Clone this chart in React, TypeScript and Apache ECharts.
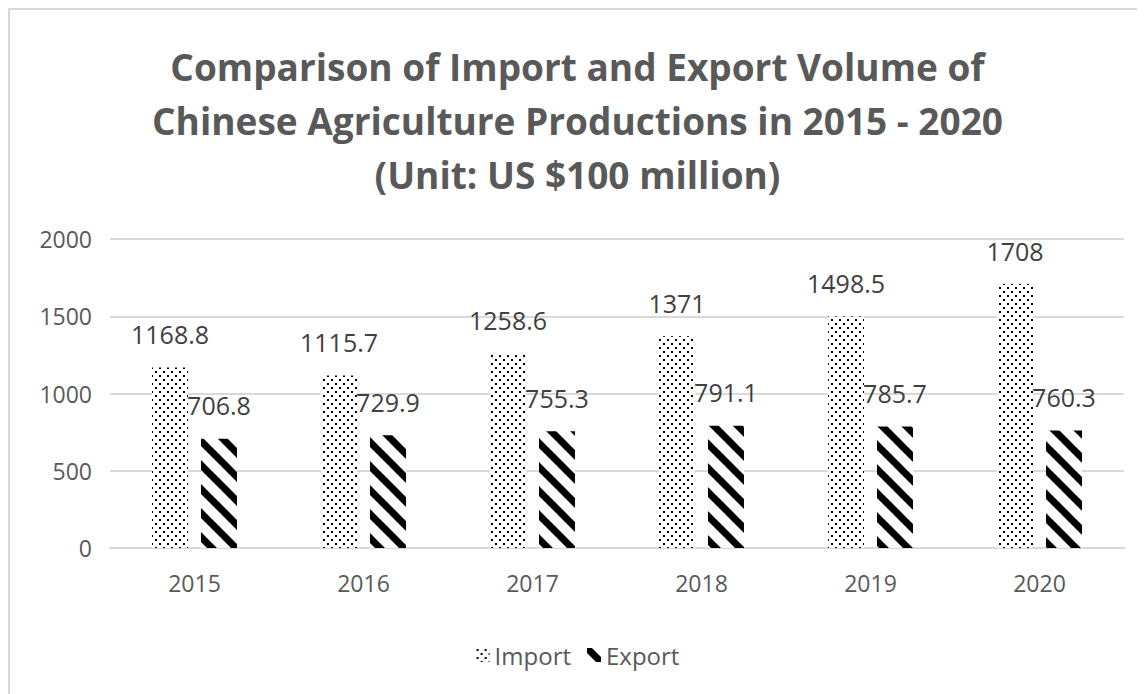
import React, { useEffect, useRef } from "react";
import * as echarts from "echarts";

const years = ["2015", "2016", "2017", "2018", "2019", "2020"];
const importValues = [1168.8, 1115.7, 1258.6, 1371, 1498.5, 1708];
const exportValues = [706.8, 729.9, 755.3, 791.1, 785.7, 760.3];
const seriesNames = ["Import", "Export"];
const titleText =
  "Comparison of Import and Export Volume of\nChinese Agriculture Productions in 2015 - 2020\n(Unit: US $100 million)";

const dotSvg =
  "<svg xmlns='http://www.w3.org/2000/svg' width='8' height='8'><rect width='8' height='8' fill='white'/><rect x='1' y='1' width='2' height='2' fill='black'/><rect x='5' y='5' width='2' height='2' fill='black'/></svg>";
const stripeSvg =
  "<svg xmlns='http://www.w3.org/2000/svg' width='24' height='24'><rect width='24' height='24' fill='white'/><g stroke='black' stroke-width='7'><line x1='-6' y1='-6' x2='30' y2='30'/><line x1='-6' y1='18' x2='6' y2='30'/><line x1='18' y1='-6' x2='30' y2='6'/></g></svg>";

const toUrl = (s: string) => "data:image/svg+xml;charset=utf-8," + encodeURIComponent(s);

export default function App() {
  const ref = useRef<HTMLDivElement>(null);
  useEffect(() => {
    if (!ref.current) return;
    const chart = echarts.init(ref.current, null, { renderer: "svg" });
    const dotPattern: any = { image: toUrl(dotSvg), repeat: "repeat", imageWidth: 8, imageHeight: 8 };
    const stripePattern: any = { image: toUrl(stripeSvg), repeat: "repeat", imageWidth: 24, imageHeight: 24 };
    const font = "'Open Sans', sans-serif";
    chart.setOption({
      animation: false,
      textStyle: { fontFamily: font },
      title: {
        text: titleText,
        left: "center",
        top: 24,
        textStyle: {
          fontFamily: font,
          fontSize: 37,
          fontWeight: "bold",
          color: "#595959",
          lineHeight: 54,
        },
      },
      legend: {
        data: seriesNames,
        top: 628,
        left: "center",
        itemWidth: 14,
        itemHeight: 14,
        itemGap: 16,
        icon: "rect",
        textStyle: { fontFamily: font, fontSize: 24, color: "#595959" },
      },
      grid: { left: 100, right: 21, top: 229, bottom: 146 },
      xAxis: {
        type: "category",
        data: years,
        axisLine: { lineStyle: { color: "#d9d9d9", width: 2 } },
        axisTick: { show: false },
        axisLabel: { fontFamily: font, fontSize: 23, color: "#595959", margin: 23 },
      },
      yAxis: {
        type: "value",
        min: 0,
        max: 2000,
        interval: 500,
        axisLine: { show: false },
        axisTick: { show: false },
        splitLine: { lineStyle: { color: "#d9d9d9", width: 2 } },
        axisLabel: {
          fontFamily: font,
          fontSize: 23,
          color: "#595959",
          margin: 18,
          formatter: (v: number) => String(v),
        },
      },
      series: [
        {
          name: seriesNames[0],
          type: "bar",
          data: importValues,
          barWidth: 36,
          barGap: "36%",
          itemStyle: { color: dotPattern },
          label: {
            show: true,
            position: "top",
            distance: 21,
            fontFamily: font,
            fontSize: 25,
            color: "#404040",
          },
        },
        {
          name: seriesNames[1],
          type: "bar",
          data: exportValues,
          barWidth: 36,
          itemStyle: { color: stripePattern },
          label: {
            show: true,
            position: "top",
            distance: 21,
            fontFamily: font,
            fontSize: 25,
            color: "#404040",
          },
        },
      ],
    });
    return () => chart.dispose();
  }, []);
  return (
    <div style={{ borderLeft: "2px solid #d9d9d9", borderTop: "2px solid #d9d9d9", width: 1137, height: 686, boxSizing: "border-box" }}>
      <div ref={ref} style={{ width: 1135, height: 684 }} />
    </div>
  );
}
